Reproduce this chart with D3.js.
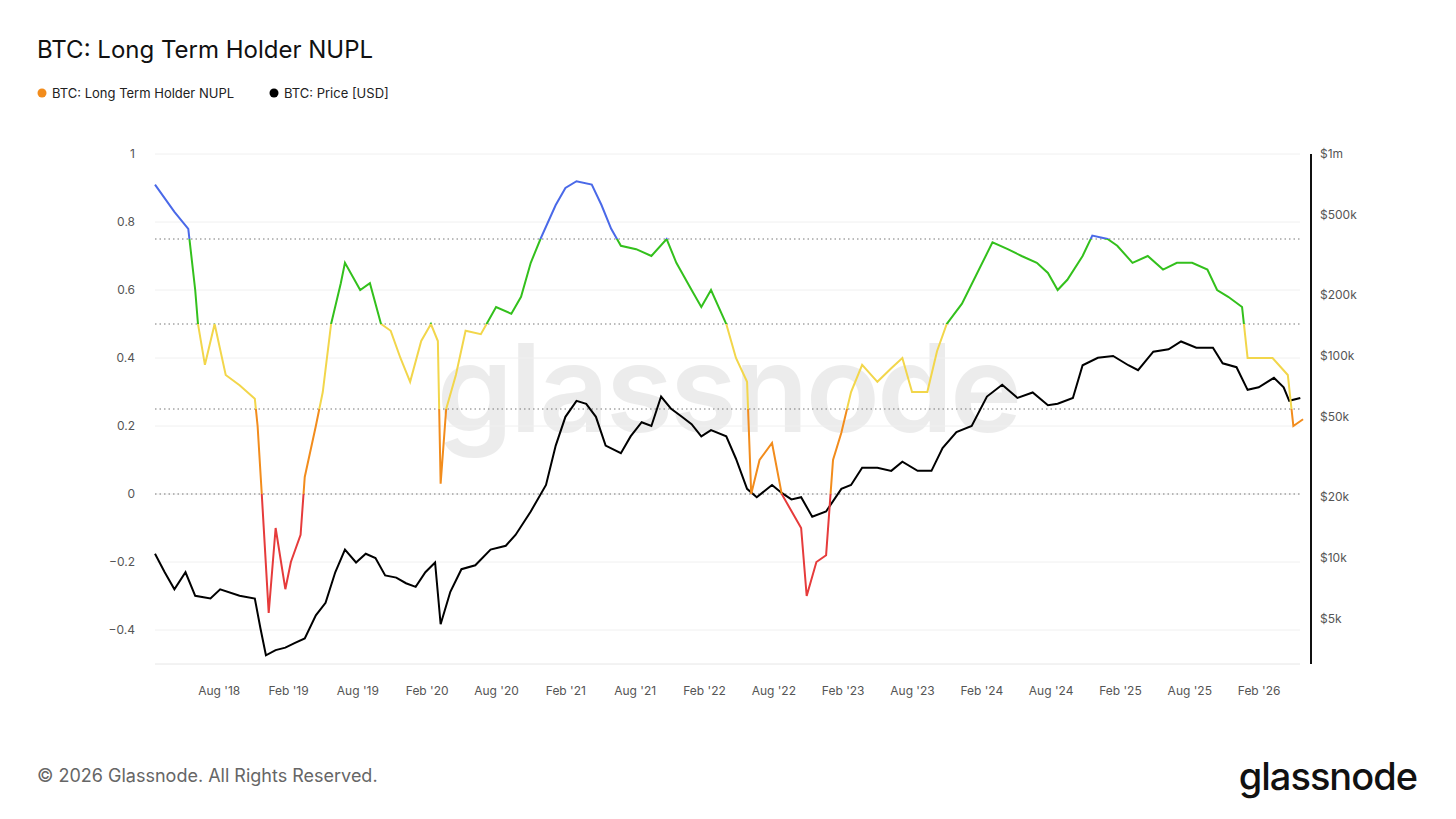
<!DOCTYPE html><html><head><meta charset="utf-8">
<script src="https://cdn.jsdelivr.net/npm/d3@7"></script>
<style>body{margin:0;background:#fff;font-family:Inter,"Noto Sans",sans-serif}</style></head><body>
<svg id="c" width="1456" height="819"></svg>
<script>
const nuplT=[2018.12,2018.26,2018.36,2018.41,2018.43,2018.48,2018.55,2018.63,2018.73,2018.84,2018.86,2018.89,2018.94,2018.99,2019.06,2019.10,2019.17,2019.20,2019.28,2019.33,2019.39,2019.46,2019.49,2019.60,2019.67,2019.75,2019.82,2019.89,2019.96,2020.04,2020.11,2020.16,2020.18,2020.22,2020.29,2020.36,2020.47,2020.58,2020.69,2020.76,2020.83,2020.90,2021.01,2021.08,2021.16,2021.27,2021.34,2021.41,2021.48,2021.59,2021.70,2021.81,2021.88,2021.99,2022.06,2022.13,2022.24,2022.31,2022.39,2022.42,2022.48,2022.57,2022.64,2022.71,2022.78,2022.82,2022.89,2022.96,2023.01,2023.07,2023.14,2023.22,2023.33,2023.43,2023.51,2023.58,2023.69,2023.76,2023.83,2023.94,2024.05,2024.16,2024.27,2024.37,2024.48,2024.56,2024.63,2024.70,2024.81,2024.88,2024.99,2025.06,2025.17,2025.28,2025.39,2025.49,2025.60,2025.71,2025.78,2025.86,2025.96,2026.00,2026.07,2026.18,2026.29,2026.33,2026.40];
const nuplV=[0.91,0.83,0.78,0.60,0.50,0.38,0.50,0.35,0.32,0.28,0.20,0.00,-0.35,-0.10,-0.28,-0.20,-0.12,0.05,0.20,0.30,0.50,0.62,0.68,0.60,0.62,0.50,0.48,0.40,0.33,0.45,0.50,0.45,0.03,0.25,0.35,0.48,0.47,0.55,0.53,0.58,0.68,0.75,0.85,0.90,0.92,0.91,0.85,0.78,0.73,0.72,0.70,0.75,0.68,0.60,0.55,0.60,0.50,0.40,0.33,0.00,0.10,0.15,0.00,-0.05,-0.10,-0.30,-0.20,-0.18,0.10,0.18,0.30,0.38,0.33,0.37,0.40,0.30,0.30,0.42,0.50,0.56,0.65,0.74,0.72,0.70,0.68,0.65,0.60,0.63,0.70,0.76,0.75,0.73,0.68,0.70,0.66,0.68,0.68,0.66,0.60,0.58,0.55,0.40,0.40,0.40,0.35,0.20,0.22];
const priceT=[2018.12,2018.19,2018.26,2018.34,2018.41,2018.52,2018.59,2018.73,2018.84,2018.88,2018.92,2018.99,2019.06,2019.13,2019.20,2019.28,2019.35,2019.42,2019.49,2019.57,2019.64,2019.71,2019.78,2019.86,2019.93,2020.00,2020.07,2020.14,2020.18,2020.25,2020.33,2020.43,2020.54,2020.65,2020.72,2020.83,2020.94,2021.01,2021.08,2021.16,2021.23,2021.30,2021.37,2021.48,2021.55,2021.63,2021.70,2021.77,2021.84,2021.92,2021.99,2022.06,2022.13,2022.24,2022.31,2022.39,2022.46,2022.57,2022.64,2022.71,2022.78,2022.86,2022.96,2023.07,2023.14,2023.22,2023.33,2023.43,2023.51,2023.62,2023.72,2023.80,2023.90,2024.01,2024.12,2024.23,2024.34,2024.45,2024.56,2024.63,2024.74,2024.81,2024.92,2025.03,2025.14,2025.21,2025.32,2025.43,2025.52,2025.63,2025.75,2025.82,2025.92,2026.00,2026.08,2026.19,2026.26,2026.30,2026.38];
const priceV=[10500,8500,7000,8500,6500,6300,7000,6500,6300,4500,3300,3500,3600,3800,4000,5200,6000,8500,11000,9500,10500,10000,8200,8000,7500,7200,8500,9500,4700,6800,8800,9200,11000,11500,13000,17000,23000,36000,50000,60000,58000,50000,36000,33000,40000,47000,45000,63000,55000,50000,46000,40000,43000,40000,31000,22000,20000,23000,21000,19500,20000,16000,17000,22000,23000,28000,28000,27000,30000,27000,27000,35000,42000,45000,63000,72000,62000,66000,57000,58000,62000,90000,98000,100000,90000,85000,105000,108000,118000,110000,110000,92000,88000,68000,70000,78000,70000,60000,62000];
const leftTicks=[-0.4,-0.2,0,0.2,0.4,0.6,0.8,1];
const bands=[0,0.25,0.5,0.75];
const rightTicks=[5000,10000,20000,50000,100000,200000,500000,1000000];
const rightLabels=["$5k","$10k","$20k","$50k","$100k","$200k","$500k","$1m"];
const xTicks=[2018.583,2019.083,2019.583,2020.083,2020.583,2021.083,2021.583,2022.083,2022.583,2023.083,2023.583,2024.083,2024.583,2025.083,2025.583,2026.083];
const xLabels=["Aug '18","Feb '19","Aug '19","Feb '20","Aug '20","Feb '21","Aug '21","Feb '22","Aug '22","Feb '23","Aug '23","Feb '24","Aug '24","Feb '25","Aug '25","Feb '26"];
const zones=[{lo:0.75,hi:2,c:"#4a69e8"},{lo:0.5,hi:0.75,c:"#33c01c"},{lo:0.25,hi:0.5,c:"#f2d64b"},{lo:0,hi:0.25,c:"#f28c1c"},{lo:-2,hi:0,c:"#e63b3b"}];

const svg=d3.select("#c");
const L=155,R=1300,T=154,B=664;
const x=d3.scaleLinear().domain([2018.12,2026.45]).range([L,R+10]);
const y=d3.scaleLinear().domain([-0.5,1]).range([B,T]);
const yp=d3.scaleLog().domain([10**(6-510/202),1e6]).range([B,T]);

svg.append("text").attr("x",37).attr("y",58).attr("font-size",24).attr("fill","#111").text("BTC: Long Term Holder NUPL");
const lg=svg.append("g").attr("font-size",13).attr("fill","#222");
lg.append("circle").attr("cx",42).attr("cy",93).attr("r",4.5).attr("fill","#f28c1c");
lg.append("text").attr("x",52).attr("y",97.5).text("BTC: Long Term Holder NUPL");
lg.append("circle").attr("cx",274).attr("cy",93).attr("r",4.5).attr("fill","#000");
lg.append("text").attr("x",284).attr("y",97.5).text("BTC: Price [USD]");

svg.append("text").attr("x",728).attr("y",432).attr("text-anchor","middle").attr("font-size",122).attr("font-weight",600).attr("fill","#000").attr("opacity",0.07).attr("letter-spacing",-3).text("glassnode");

svg.append("g").selectAll("line").data(leftTicks).join("line").attr("x1",L).attr("x2",R).attr("y1",d=>y(d)).attr("y2",d=>y(d)).attr("stroke","#f0f0f0");
svg.append("line").attr("x1",L).attr("x2",R).attr("y1",B).attr("y2",B).attr("stroke","#e6e6e6");
svg.append("g").selectAll("line").data(bands).join("line").attr("x1",L).attr("x2",R).attr("y1",d=>y(d)).attr("y2",d=>y(d)).attr("stroke","#777").attr("stroke-dasharray","1.5,3");
svg.append("g").selectAll("text").data(leftTicks).join("text").attr("x",135).attr("y",d=>y(d)+4).attr("text-anchor","end").attr("font-size",12).attr("fill","#555").text(d=>d3.format("")(d));
svg.append("line").attr("x1",1311).attr("x2",1311).attr("y1",T).attr("y2",B).attr("stroke","#111").attr("stroke-width",2);
svg.append("g").selectAll("text").data(rightTicks).join("text").attr("x",1320).attr("y",(d)=>yp(d)+4).attr("font-size",12).attr("fill","#555").text((d,i)=>rightLabels[i]);
svg.append("g").selectAll("text").data(xTicks).join("text").attr("x",d=>x(d)).attr("y",695).attr("text-anchor","middle").attr("font-size",12).attr("fill","#555").text((d,i)=>xLabels[i]);

const pd=priceT.map((t,i)=>[t,priceV[i]]);
svg.append("path").attr("d",d3.line().x(d=>x(d[0])).y(d=>yp(d[1]))(pd)).attr("fill","none").attr("stroke","#000").attr("stroke-width",2);

const nd=nuplT.map((t,i)=>[t,nuplV[i]]);
const defs=svg.append("defs");
zones.forEach((z,i)=>{
  const y0=y(Math.min(z.hi,1.5)),y1=y(Math.max(z.lo,-1));
  defs.append("clipPath").attr("id","z"+i).append("rect").attr("x",0).attr("width",1456).attr("y",Math.min(y0,y1)).attr("height",Math.abs(y1-y0));
  svg.append("path").attr("d",d3.line().x(d=>x(d[0])).y(d=>y(d[1]))(nd)).attr("fill","none").attr("stroke",z.c).attr("stroke-width",2).attr("clip-path",`url(#z${i})`);
});

svg.append("text").attr("x",37).attr("y",782).attr("font-size",18).attr("fill","#666").text("© 2026 Glassnode. All Rights Reserved.");
svg.append("text").attr("x",1417).attr("y",790).attr("text-anchor","end").attr("font-size",38).attr("font-weight",500).attr("fill","#111").attr("letter-spacing",-1).text("glassnode");
</script></body></html>
